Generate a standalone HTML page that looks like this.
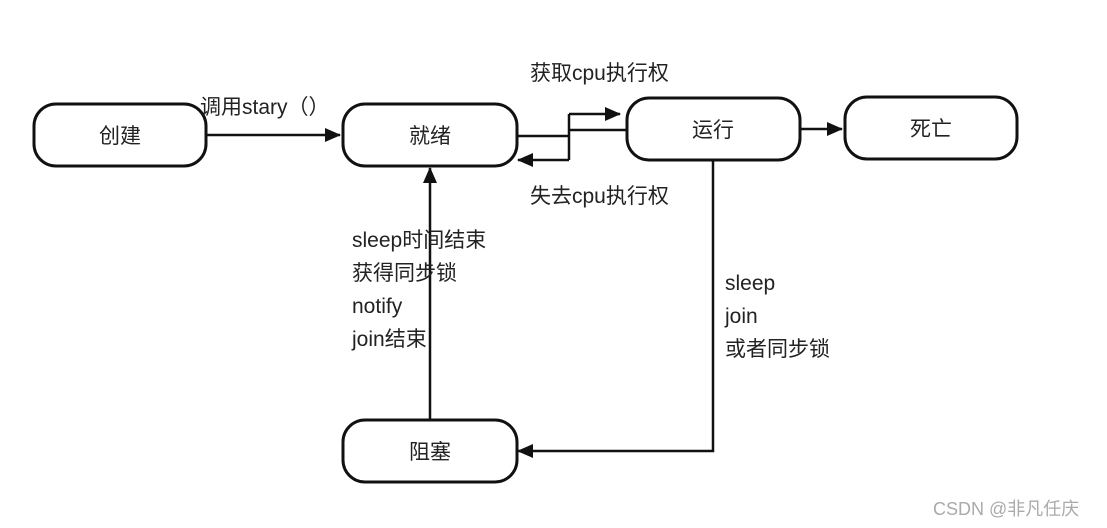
<!DOCTYPE html>
<html><head><meta charset="utf-8"><style>
body{margin:0;width:1107px;height:528px;background:#fff;overflow:hidden;position:relative;font-family:"Liberation Sans","Noto Sans CJK SC",sans-serif;color:#222}
.t{position:absolute;font-size:21px;white-space:nowrap;line-height:33px}
</style></head><body>
<svg width="1107" height="528" style="position:absolute;left:0;top:0" font-family="Liberation Sans, Noto Sans CJK SC, sans-serif">
<defs><marker id="a" markerWidth="10" markerHeight="10" refX="9" refY="5" orient="auto" markerUnits="userSpaceOnUse" viewBox="0 0 10 10"><path d="M0,0 L10,5 L0,10z" fill="#111"/></marker>
<marker id="b" markerWidth="16" markerHeight="14" refX="15" refY="7" orient="auto" markerUnits="userSpaceOnUse"><path d="M0,0 L16,7 L0,14z" fill="#111"/></marker></defs>
<g fill="none" stroke="#111" stroke-width="3">
<rect x="34" y="104" width="172" height="62" rx="22"/>
<rect x="343" y="104" width="174" height="62" rx="22"/>
<rect x="627" y="98" width="173" height="62" rx="22"/>
<rect x="845" y="97" width="172" height="62" rx="22"/>
<rect x="343" y="420" width="174" height="62" rx="22"/>
</g>
<g fill="none" stroke="#111" stroke-width="2.5">
<path d="M206 135 H340" marker-end="url(#b)"/>
<path d="M800 129 H842" marker-end="url(#b)"/>
<path d="M517 136 H569 M569 114 V160 M569 130 H627"/>
<path d="M569 114 H620" marker-end="url(#b)"/>
<path d="M569 160 H518" marker-end="url(#b)"/>
<path d="M430 420 V168" marker-end="url(#b)"/>
<path d="M713 160 V451 H518" marker-end="url(#b)"/>
</g>
<g font-size="21" fill="#222" text-anchor="middle">
<text x="120" y="143">创建</text>
<text x="430" y="143">就绪</text>
<text x="713" y="137">运行</text>
<text x="931" y="136">死亡</text>
<text x="430" y="459">阻塞</text>
</g>
</svg>
<div class="t" style="left:200px;top:91px">调用stary（）</div>
<div class="t" style="left:530px;top:57px">获取cpu执行权</div>
<div class="t" style="left:530px;top:180px">失去cpu执行权</div>
<div class="t" style="left:352px;top:224px">sleep时间结束<br>获得同步锁<br>notify<br>join结束</div>
<div class="t" style="left:725px;top:267px">sleep<br>join<br>或者同步锁</div>
<div class="t" style="left:933px;top:493px;font-size:18px;color:#aaa">CSDN @非凡任庆</div>
</body></html>
